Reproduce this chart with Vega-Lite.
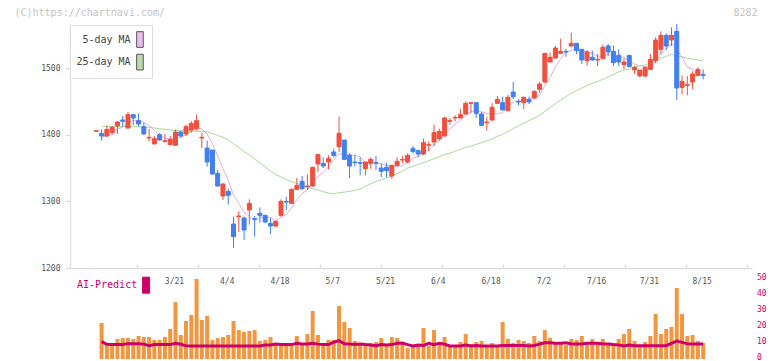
{
"$schema": "https://vega.github.io/schema/vega-lite/v6.json",
"width": 682, "height": 339,
"autosize": {"type": "none"},
"padding": {"left": 70, "top": 20, "right": 20, "bottom": 2},
"background": "white",
"config": {"view": {"stroke": null}, "font": "DejaVu Sans Mono"},
"data": {"values": [
{"k":0,"d":"2/27","o":1405,"h":1407,"l":1405,"c":1406,"m5":null,"m25":null,"v":null,"ai":null},
{"k":1,"d":"2/28","o":1402,"h":1408,"l":1391,"c":1398,"m5":1396,"m25":1412,"v":22.5,"ai":10.8},
{"k":2,"d":"3/3","o":1398,"h":1414,"l":1397,"c":1408,"m5":1398,"m25":1412,"v":10,"ai":9.2},
{"k":3,"d":"3/4","o":1403,"h":1413,"l":1400,"c":1411,"m5":1401,"m25":1412,"v":9,"ai":9},
{"k":4,"d":"3/5","o":1413,"h":1420,"l":1401,"c":1419,"m5":1408.4,"m25":1412,"v":12.5,"ai":9},
{"k":5,"d":"3/6","o":1422,"h":1428,"l":1412,"c":1420,"m5":1411.2,"m25":1412,"v":13.1,"ai":9},
{"k":6,"d":"3/7","o":1410,"h":1434,"l":1409,"c":1430,"m5":1417.6,"m25":1412,"v":13.1,"ai":9.6},
{"k":7,"d":"3/10","o":1430,"h":1430,"l":1414,"c":1425,"m5":1421,"m25":1412,"v":12.5,"ai":9.6},
{"k":8,"d":"3/11","o":1421,"h":1432,"l":1412,"c":1416,"m5":1422,"m25":1412,"v":14.4,"ai":9.6},
{"k":9,"d":"3/12","o":1412,"h":1418,"l":1400,"c":1401,"m5":1418.4,"m25":1411,"v":13.75,"ai":9.3},
{"k":10,"d":"3/13","o":1395,"h":1409,"l":1390,"c":1396,"m5":1413.6,"m25":1411,"v":13.75,"ai":8.3},
{"k":11,"d":"3/14","o":1386,"h":1398,"l":1386,"c":1394,"m5":1406.4,"m25":1410,"v":11.9,"ai":9},
{"k":12,"d":"3/17","o":1400,"h":1402,"l":1391,"c":1392,"m5":1399.8,"m25":1409,"v":11.9,"ai":9},
{"k":13,"d":"3/18","o":1390,"h":1401,"l":1388,"c":1391,"m5":1394.8,"m25":1408,"v":13.75,"ai":9},
{"k":14,"d":"3/19","o":1385,"h":1398,"l":1384,"c":1393,"m5":1393.2,"m25":1407,"v":18.75,"ai":9},
{"k":15,"d":"3/21","o":1384,"h":1408,"l":1383,"c":1404,"m5":1394.8,"m25":1406,"v":35.6,"ai":9.8},
{"k":16,"d":"3/24","o":1404,"h":1406,"l":1396,"c":1398,"m5":1395.6,"m25":1406,"v":15,"ai":9.2},
{"k":17,"d":"3/25","o":1401,"h":1415,"l":1398,"c":1412,"m5":1399.6,"m25":1405.5,"v":23.75,"ai":8.2},
{"k":18,"d":"3/26","o":1407,"h":1420,"l":1403,"c":1417,"m5":1404.8,"m25":1405.5,"v":27.5,"ai":8.1},
{"k":19,"d":"3/27","o":1409,"h":1430,"l":1406,"c":1421,"m5":1410.4,"m25":1405,"v":50,"ai":8.1},
{"k":20,"d":"3/28","o":1395,"h":1403,"l":1380,"c":1396,"m5":1408.8,"m25":1405,"v":24.4,"ai":8.1},
{"k":21,"d":"3/31","o":1380,"h":1391,"l":1352,"c":1359,"m5":1401,"m25":1404,"v":26.9,"ai":8.1},
{"k":22,"d":"4/1","o":1377,"h":1377,"l":1340,"c":1341,"m5":1386.8,"m25":1402,"v":11.9,"ai":8.1},
{"k":23,"d":"4/2","o":1342,"h":1347,"l":1322,"c":1323,"m5":1368,"m25":1399,"v":13.1,"ai":8.1},
{"k":24,"d":"4/3","o":1308,"h":1327,"l":1302,"c":1326,"m5":1349,"m25":1395.9,"v":13.75,"ai":8.1},
{"k":25,"d":"4/4","o":1315,"h":1319,"l":1295,"c":1309,"m5":1331.6,"m25":1392,"v":15,"ai":8.1},
{"k":26,"d":"4/7","o":1266,"h":1277,"l":1230,"c":1247,"m5":1309.2,"m25":1386,"v":23.75,"ai":8.1},
{"k":27,"d":"4/8","o":1277,"h":1285,"l":1254,"c":1278,"m5":1296.6,"m25":1380.8,"v":18.1,"ai":8.1},
{"k":28,"d":"4/9","o":1275,"h":1277,"l":1242,"c":1257,"m5":1283.4,"m25":1374.6,"v":16.9,"ai":8.1},
{"k":29,"d":"4/10","o":1287,"h":1303,"l":1265,"c":1297,"m5":1277.6,"m25":1369.7,"v":17.5,"ai":8.1},
{"k":30,"d":"4/11","o":1274,"h":1278,"l":1247,"c":1273,"m5":1270.4,"m25":1363.8,"v":18.1,"ai":8.1},
{"k":31,"d":"4/14","o":1282,"h":1291,"l":1268,"c":1279,"m5":1276.8,"m25":1357.8,"v":11.25,"ai":8.1},
{"k":32,"d":"4/15","o":1279,"h":1280,"l":1267,"c":1269,"m5":1275,"m25":1351.6,"v":11.9,"ai":8.7},
{"k":33,"d":"4/16","o":1267,"h":1275,"l":1251,"c":1263,"m5":1276.2,"m25":1345.4,"v":13.75,"ai":8.7},
{"k":34,"d":"4/17","o":1263,"h":1271,"l":1261,"c":1270,"m5":1270.8,"m25":1340.2,"v":10,"ai":9.4},
{"k":35,"d":"4/18","o":1279,"h":1303,"l":1277,"c":1300,"m5":1276.2,"m25":1336.4,"v":8.75,"ai":9},
{"k":36,"d":"4/21","o":1300,"h":1307,"l":1287,"c":1299,"m5":1280.2,"m25":1332.6,"v":10,"ai":9},
{"k":37,"d":"4/22","o":1297,"h":1319,"l":1296,"c":1318,"m5":1290,"m25":1329.6,"v":8.75,"ai":9},
{"k":38,"d":"4/23","o":1318,"h":1335,"l":1317,"c":1324,"m5":1302.2,"m25":1326.9,"v":14.4,"ai":9.8},
{"k":39,"d":"4/24","o":1330,"h":1338,"l":1317,"c":1319,"m5":1312,"m25":1324,"v":8.75,"ai":9.4},
{"k":40,"d":"4/25","o":1322,"h":1340,"l":1317,"c":1323,"m5":1316.6,"m25":1320.7,"v":15.6,"ai":9.4},
{"k":41,"d":"4/28","o":1323,"h":1352,"l":1322,"c":1351,"m5":1327,"m25":1318.8,"v":30,"ai":9.8},
{"k":42,"d":"4/30","o":1356,"h":1371,"l":1344,"c":1370,"m5":1337.4,"m25":1317.2,"v":15,"ai":9.3},
{"k":43,"d":"5/1","o":1357,"h":1366,"l":1350,"c":1353,"m5":1343.2,"m25":1314.6,"v":8.75,"ai":9},
{"k":44,"d":"5/2","o":1359,"h":1369,"l":1348,"c":1364,"m5":1352.2,"m25":1312.3,"v":11.9,"ai":9},
{"k":45,"d":"5/7","o":1374,"h":1379,"l":1366,"c":1369,"m5":1361.4,"m25":1311.2,"v":11.9,"ai":10.5},
{"k":46,"d":"5/8","o":1382,"h":1427,"l":1374,"c":1402,"m5":1371.6,"m25":1313,"v":33.1,"ai":11.5},
{"k":47,"d":"5/9","o":1392,"h":1392,"l":1362,"c":1363,"m5":1370.2,"m25":1313.8,"v":23.1,"ai":9.5},
{"k":48,"d":"5/12","o":1369,"h":1372,"l":1335,"c":1353,"m5":1370.2,"m25":1315,"v":19.4,"ai":9.4},
{"k":49,"d":"5/13","o":1359,"h":1370,"l":1352,"c":1358,"m5":1369,"m25":1316.3,"v":11.25,"ai":9},
{"k":50,"d":"5/14","o":1358,"h":1366,"l":1339,"c":1357,"m5":1366.6,"m25":1318.2,"v":9.5,"ai":9.4},
{"k":51,"d":"5/15","o":1349,"h":1359,"l":1339,"c":1359,"m5":1358,"m25":1322.7,"v":9.5,"ai":9},
{"k":52,"d":"5/16","o":1357,"h":1366,"l":1349,"c":1363,"m5":1358,"m25":1326.1,"v":10,"ai":8.7},
{"k":53,"d":"5/19","o":1358,"h":1368,"l":1347,"c":1357,"m5":1358.8,"m25":1330.1,"v":10.6,"ai":8.3},
{"k":54,"d":"5/20","o":1350,"h":1357,"l":1336,"c":1345,"m5":1356.2,"m25":1332,"v":13.1,"ai":9},
{"k":55,"d":"5/21","o":1351,"h":1358,"l":1336,"c":1346,"m5":1354,"m25":1335,"v":8.75,"ai":8.8},
{"k":56,"d":"5/22","o":1338,"h":1354,"l":1334,"c":1354,"m5":1353,"m25":1338,"v":13.75,"ai":9},
{"k":57,"d":"5/23","o":1354,"h":1366,"l":1352,"c":1360,"m5":1352.4,"m25":1341.6,"v":13.1,"ai":9.8},
{"k":58,"d":"5/26","o":1362,"h":1368,"l":1357,"c":1363,"m5":1353.6,"m25":1345.6,"v":10,"ai":10},
{"k":59,"d":"5/27","o":1359,"h":1372,"l":1357,"c":1369,"m5":1358.4,"m25":1349.6,"v":6.9,"ai":9},
{"k":60,"d":"5/28","o":1379,"h":1383,"l":1372,"c":1375,"m5":1364.2,"m25":1352.6,"v":8.1,"ai":8.1},
{"k":61,"d":"5/29","o":1376,"h":1378,"l":1366,"c":1371,"m5":1367.6,"m25":1355.4,"v":8.1,"ai":8.8},
{"k":62,"d":"5/30","o":1371,"h":1394,"l":1369,"c":1388,"m5":1373.2,"m25":1358.2,"v":19.4,"ai":8.4},
{"k":63,"d":"6/2","o":1384,"h":1390,"l":1375,"c":1385,"m5":1377.6,"m25":1360.7,"v":8.1,"ai":9.8},
{"k":64,"d":"6/3","o":1389,"h":1415,"l":1383,"c":1403,"m5":1384.4,"m25":1364,"v":18.1,"ai":9},
{"k":65,"d":"6/4","o":1394,"h":1409,"l":1391,"c":1405,"m5":1390.4,"m25":1367.3,"v":10,"ai":9.8},
{"k":66,"d":"6/5","o":1398,"h":1427,"l":1397,"c":1425,"m5":1401.2,"m25":1370.3,"v":13.75,"ai":9.2},
{"k":67,"d":"6/6","o":1420,"h":1425,"l":1415,"c":1421,"m5":1407.8,"m25":1372.3,"v":7.5,"ai":8.1},
{"k":68,"d":"6/9","o":1425,"h":1429,"l":1420,"c":1426,"m5":1416,"m25":1375.2,"v":8.1,"ai":8.1},
{"k":69,"d":"6/10","o":1425,"h":1439,"l":1425,"c":1430,"m5":1421.4,"m25":1377.9,"v":10.6,"ai":8.1},
{"k":70,"d":"6/11","o":1431,"h":1450,"l":1430,"c":1447,"m5":1429.8,"m25":1381,"v":15.6,"ai":8.7},
{"k":71,"d":"6/12","o":1447,"h":1448,"l":1432,"c":1448,"m5":1434.4,"m25":1382.8,"v":9.4,"ai":8.1},
{"k":72,"d":"6/13","o":1448,"h":1449,"l":1425,"c":1432,"m5":1436.6,"m25":1385.6,"v":10.6,"ai":8.4},
{"k":73,"d":"6/16","o":1431,"h":1434,"l":1413,"c":1414,"m5":1434.2,"m25":1388,"v":11.25,"ai":8.1},
{"k":74,"d":"6/17","o":1418,"h":1426,"l":1406,"c":1419,"m5":1432,"m25":1390.5,"v":8.75,"ai":8.1},
{"k":75,"d":"6/18","o":1422,"h":1447,"l":1421,"c":1441,"m5":1430.8,"m25":1393.8,"v":10,"ai":8.1},
{"k":76,"d":"6/19","o":1447,"h":1458,"l":1446,"c":1453,"m5":1431.8,"m25":1397.6,"v":8.1,"ai":8.1},
{"k":77,"d":"6/20","o":1448,"h":1457,"l":1437,"c":1437,"m5":1432.8,"m25":1400.6,"v":23.1,"ai":8.5},
{"k":78,"d":"6/23","o":1436,"h":1460,"l":1436,"c":1456,"m5":1441.2,"m25":1404.5,"v":12.5,"ai":8.5},
{"k":79,"d":"6/24","o":1464,"h":1479,"l":1453,"c":1457,"m5":1448.8,"m25":1409,"v":10,"ai":8.5},
{"k":80,"d":"6/25","o":1450,"h":1453,"l":1444,"c":1449,"m5":1450.4,"m25":1413.1,"v":11.9,"ai":8.5},
{"k":81,"d":"6/26","o":1448,"h":1457,"l":1438,"c":1456,"m5":1451,"m25":1417.2,"v":11.25,"ai":8.5},
{"k":82,"d":"6/27","o":1453,"h":1457,"l":1446,"c":1449,"m5":1453.4,"m25":1420.8,"v":10,"ai":8.1},
{"k":83,"d":"6/30","o":1455,"h":1466,"l":1453,"c":1465,"m5":1455.2,"m25":1424.8,"v":14.4,"ai":8.5},
{"k":84,"d":"7/1","o":1468,"h":1479,"l":1463,"c":1476,"m5":1459,"m25":1429.1,"v":11.25,"ai":9.3},
{"k":85,"d":"7/2","o":1479,"h":1522,"l":1477,"c":1522,"m5":1473.6,"m25":1435,"v":18.1,"ai":10.2},
{"k":86,"d":"7/3","o":1509,"h":1523,"l":1509,"c":1516,"m5":1485.6,"m25":1440.8,"v":13.1,"ai":10.2},
{"k":87,"d":"7/4","o":1515,"h":1533,"l":1514,"c":1530,"m5":1501.8,"m25":1446.5,"v":10.6,"ai":9.8},
{"k":88,"d":"7/7","o":1522,"h":1544,"l":1521,"c":1525,"m5":1513.8,"m25":1452.1,"v":10,"ai":9.8},
{"k":89,"d":"7/8","o":1525,"h":1529,"l":1517,"c":1524,"m5":1523.4,"m25":1456.9,"v":8.75,"ai":10.2},
{"k":90,"d":"7/9","o":1533,"h":1553,"l":1532,"c":1537,"m5":1526.4,"m25":1462.2,"v":12.5,"ai":9.4},
{"k":91,"d":"7/10","o":1537,"h":1537,"l":1521,"c":1526,"m5":1528.4,"m25":1466.2,"v":11.9,"ai":9.4},
{"k":92,"d":"7/11","o":1528,"h":1528,"l":1506,"c":1512,"m5":1524.8,"m25":1469.9,"v":14.4,"ai":9.4},
{"k":93,"d":"7/14","o":1511,"h":1527,"l":1503,"c":1524,"m5":1524.6,"m25":1473.8,"v":9.4,"ai":9.8},
{"k":94,"d":"7/15","o":1516,"h":1526,"l":1511,"c":1512,"m5":1522.2,"m25":1477.1,"v":12.5,"ai":9.8},
{"k":95,"d":"7/16","o":1512,"h":1521,"l":1503,"c":1513,"m5":1517.4,"m25":1479.7,"v":10,"ai":9.8},
{"k":96,"d":"7/17","o":1514,"h":1535,"l":1514,"c":1531,"m5":1518.4,"m25":1483,"v":12.5,"ai":9.4},
{"k":97,"d":"7/18","o":1533,"h":1536,"l":1518,"c":1524,"m5":1520.8,"m25":1486.7,"v":10,"ai":9.4},
{"k":98,"d":"7/22","o":1525,"h":1534,"l":1503,"c":1508,"m5":1517.6,"m25":1490.5,"v":9.4,"ai":9},
{"k":99,"d":"7/23","o":1519,"h":1528,"l":1503,"c":1509,"m5":1517,"m25":1494.1,"v":12.5,"ai":8.7},
{"k":100,"d":"7/24","o":1505,"h":1515,"l":1498,"c":1509,"m5":1516.2,"m25":1496.8,"v":15.6,"ai":8.1},
{"k":101,"d":"7/25","o":1519,"h":1519,"l":1502,"c":1502,"m5":1510.4,"m25":1498.8,"v":18.75,"ai":8.7},
{"k":102,"d":"7/28","o":1497,"h":1503,"l":1491,"c":1501,"m5":1505.8,"m25":1501.3,"v":11.25,"ai":8.3},
{"k":103,"d":"7/29","o":1488,"h":1497,"l":1486,"c":1497,"m5":1503.6,"m25":1503,"v":8.75,"ai":8.3},
{"k":104,"d":"7/30","o":1488,"h":1501,"l":1486,"c":1501,"m5":1502,"m25":1504.7,"v":10.6,"ai":8.3},
{"k":105,"d":"7/31","o":1498,"h":1521,"l":1497,"c":1513,"m5":1502.8,"m25":1507.3,"v":14.4,"ai":8.3},
{"k":106,"d":"8/1","o":1511,"h":1546,"l":1507,"c":1542,"m5":1510.8,"m25":1510.7,"v":28.1,"ai":8.3},
{"k":107,"d":"8/4","o":1528,"h":1555,"l":1521,"c":1549,"m5":1520.4,"m25":1514.7,"v":15.6,"ai":8.3},
{"k":108,"d":"8/5","o":1549,"h":1552,"l":1527,"c":1533,"m5":1527.6,"m25":1517.4,"v":18.75,"ai":8.3},
{"k":109,"d":"8/6","o":1542,"h":1561,"l":1533,"c":1549,"m5":1537.2,"m25":1520.4,"v":20,"ai":9.8},
{"k":110,"d":"8/7","o":1555,"h":1566,"l":1452,"c":1470,"m5":1528.6,"m25":1518.3,"v":44.4,"ai":11.2},
{"k":111,"d":"8/8","o":1471,"h":1489,"l":1461,"c":1480,"m5":1516.2,"m25":1516.8,"v":28.1,"ai":10.4},
{"k":112,"d":"8/12","o":1474,"h":1488,"l":1459,"c":1475,"m5":1501.4,"m25":1514.6,"v":14.4,"ai":9.6},
{"k":113,"d":"8/13","o":1479,"h":1495,"l":1468,"c":1491,"m5":1498.2,"m25":1513.3,"v":15,"ai":9.4},
{"k":114,"d":"8/14","o":1489,"h":1501,"l":1489,"c":1498,"m5":1488,"m25":1512.2,"v":11.25,"ai":9.4},
{"k":115,"d":"8/15","o":1490,"h":1498,"l":1483,"c":1489,"m5":1491.8,"m25":1510.3,"v":10,"ai":9.4}
]},
"layer": [
 {"layer": [
  {"transform": [{"fold": ["m5", "m25"], "as": ["key", "val"]}],
   "mark": {"type": "line", "strokeWidth": 1},
   "encoding": {
    "x": {"field": "k", "type": "quantitative",
          "scale": {"domain": [-4.04, 123.31], "nice": false, "zero": false},
          "axis": {"orient": "bottom", "offset": -91, "values": [7.63, 19.21, 30.78, 42.36, 53.94, 65.52, 77.09, 88.67, 100.25, 111.83, 123.31],
                   "labels": false, "title": null, "grid": false, "domainColor": "#e0e0e0", "domainWidth": 1.5,
                   "tickColor": "#e0e0e0", "tickWidth": 1.5, "tickSize": -4}},
    "y": {"field": "val", "type": "quantitative",
          "scale": {"domain": [1200, 1564.5], "range": [248, 5], "nice": false, "zero": false},
          "axis": {"orient": "left", "values": [1200, 1300, 1400, 1500], "format": "d", "grid": false,
                   "domainColor": "#e0e0e0", "domainWidth": 1.5, "tickColor": "#e0e0e0", "tickWidth": 1.5, "tickSize": 5,
                   "labelPadding": 5, "labelColor": "#555555", "labelFont": "DejaVu Sans Mono", "labelFontSize": 8,
                   "title": "(C)https://chartnavi.com/", "titleAngle": 0, "titleX": -56, "titleY": -8,
                   "titleAlign": "left", "titleBaseline": "middle", "titleFont": "DejaVu Sans Mono",
                   "titleFontSize": 10, "titleFontWeight": "normal", "titleColor": "#c4c4c4"}},
    "detail": {"field": "key"},
    "color": {"condition": {"test": "datum.key == 'm5'", "value": "#e4aee4"}, "value": "#acd89c"}
   }},
  {"transform": [{"fold": ["m5", "m25"], "as": ["key", "val"]}],
   "mark": {"type": "point", "filled": true, "opacity": 0, "size": 1},
   "encoding": {
    "x": {"field": "k", "type": "quantitative"},
    "y": {"field": "val", "type": "quantitative"},
    "fill": {"field": "key", "type": "nominal",
             "scale": {"domain": ["m5", "m25"], "range": ["#ecbcec", "#bcdcac"]},
             "legend": {"orient": "none", "legendX": 0, "legendY": 5, "direction": "vertical", "title": null,
                        "padding": 6, "fillColor": "white", "strokeColor": "#dddddd", "cornerRadius": 0,
                        "symbolType": "M-0.42,-1L0.42,-1L0.42,1L-0.42,1Z", "symbolSize": 246,
                        "symbolStrokeColor": "#555555", "symbolStrokeWidth": 1, "symbolOpacity": 1,
                        "symbolOffset": 55.46, "labelOffset": -17.84, "labelAlign": "right", "labelBaseline": "middle",
                        "labelFont": "DejaVu Sans Mono", "labelFontSize": 10, "labelColor": "#444444", "rowPadding": 1.6,
                        "labelExpr": "datum.value == 'm5' ? '5-day MA' : '25-day MA'"}}
   }},
  {"mark": {"type": "rule", "strokeWidth": 1},
   "encoding": {
    "x": {"field": "k", "type": "quantitative"},
    "y": {"field": "l", "type": "quantitative"},
    "y2": {"field": "h"},
    "color": {"condition": {"test": "datum.c >= datum.o", "value": "#f0503c"}, "value": "#4080f0"}
   }},
  {"mark": {"type": "bar", "width": 4, "strokeWidth": 1},
   "encoding": {
    "x": {"field": "k", "type": "quantitative"},
    "y": {"field": "o", "type": "quantitative"},
    "y2": {"field": "c"},
    "color": {"condition": {"test": "datum.c >= datum.o", "value": "#f0503c"}, "value": "#4080f0"},
    "stroke": {"condition": {"test": "datum.c >= datum.o", "value": "#f0503c"}, "value": "#4080f0"}
   }},
  {"transform": [{"filter": "indexof(['3/21','4/4','4/18','5/7','5/21','6/4','6/18','7/2','7/16','7/31','8/15'], datum.d) >= 0"}],
   "mark": {"type": "text", "dy": 14, "dx": -1, "baseline": "middle", "align": "center", "font": "DejaVu Sans Mono", "fontSize": 8, "color": "#555555"},
   "encoding": {
    "x": {"field": "k", "type": "quantitative"},
    "y": {"datum": 1200, "type": "quantitative"},
    "text": {"field": "d"}
   }}
 ]},
 {"layer": [
  {"mark": {"type": "bar", "width": 4, "color": "#f29640"},
   "encoding": {
    "x": {"field": "k", "type": "quantitative"},
    "y": {"field": "v", "type": "quantitative",
          "scale": {"domain": [0, 50], "range": [339, 259], "nice": false, "zero": true},
          "axis": {"orient": "right", "values": [0, 10, 20, 30, 40, 50], "domain": false, "ticks": false, "tickSize": 0,
                   "grid": false, "labelPadding": 4.5, "labelOffset": -1.5, "labelColor": "#cc0066", "labelFont": "DejaVu Sans Mono",
                   "labelFontSize": 8, "labelAlign": "left", "labelBaseline": "middle",
                   "title": "8282", "titleAngle": 0, "titleX": 5, "titleY": -8, "titleAlign": "right", "titleBaseline": "middle",
                   "titleFont": "DejaVu Sans Mono", "titleFontSize": 10, "titleFontWeight": "normal", "titleColor": "#c4c4c4"}}
   }},
  {"transform": [{"fold": ["ai"], "as": ["key2", "val2"]}],
   "mark": {"type": "line", "strokeWidth": 3},
   "encoding": {
    "x": {"field": "k", "type": "quantitative"},
    "y": {"field": "val2", "type": "quantitative"},
    "stroke": {"field": "key2", "type": "nominal",
               "scale": {"domain": ["ai"], "range": ["#cc0066"]},
               "legend": {"orient": "none", "legendX": 0, "legendY": 250.7, "direction": "vertical", "title": null,
                          "padding": 6, "symbolType": "M-0.44,-1L0.44,-1L0.44,1L-0.44,1Z", "symbolSize": 256,
                          "symbolFillColor": "#cc0066", "symbolStrokeWidth": 1,
                          "symbolOffset": 61.6, "labelOffset": -17.4, "labelAlign": "right", "labelBaseline": "middle",
                          "labelFont": "DejaVu Sans Mono", "labelFontSize": 10, "labelColor": "#cc0066",
                          "labelExpr": "'AI-Predict'"}}
   }}
 ]}
],
"resolve": {"scale": {"y": "independent"}, "axis": {"y": "independent"}}
}
